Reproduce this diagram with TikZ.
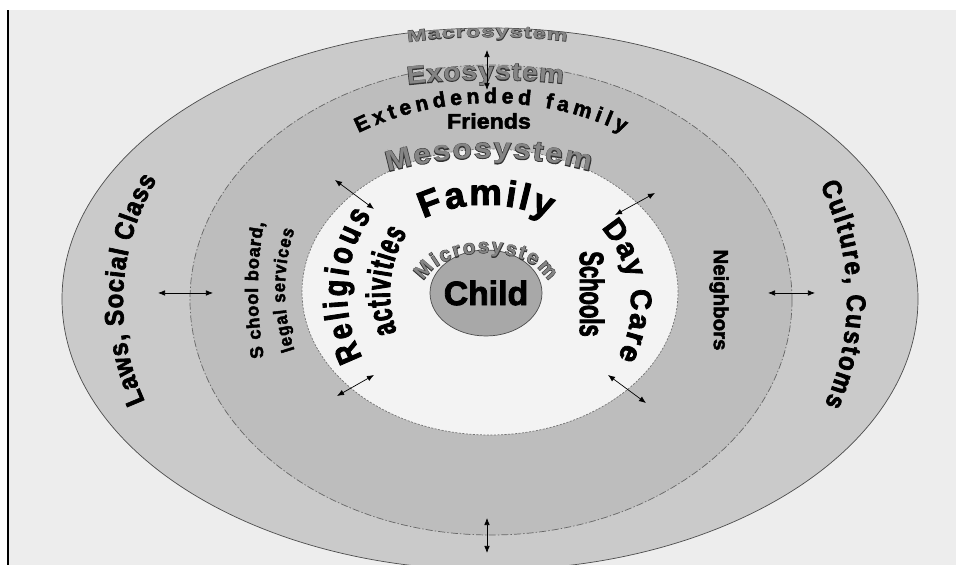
\documentclass[tikz,border=0pt]{standalone}
\usepackage{fontspec}
\setmainfont{Liberation Sans}
\newfontfamily\widefont{Liberation Sans}[FakeStretch=1.1]
\newfontfamily\xwidefont{Liberation Sans}[FakeStretch=1.45]
\newfontfamily\narrowfont{Liberation Sans}[FakeStretch=0.65]
\newfontfamily\condfont{Liberation Sans}[FakeStretch=0.8]
\newfontfamily\slimfont{Liberation Sans}[FakeStretch=0.9]
\usetikzlibrary{decorations.text,arrows.meta}

\definecolor{pagegray}{HTML}{EDEDED}
\definecolor{macrogray}{HTML}{CACACA}
\definecolor{exogray}{HTML}{BDBDBD}
\definecolor{mesogray}{HTML}{F3F3F3}
\definecolor{childgray}{HTML}{A8A8A8}
\definecolor{labelgray}{HTML}{858585}

% heavier strokes for the black labels, outline for the grey ones
\newcommand\heavy{\addfontfeature{FakeBold=2.5}}
\newcommand\graylab{\color{labelgray}}
\newcommand\outlinefx{\addfontfeature{FakeBold=5}\color{black!80}}

% fonts of the labels
\newcommand\macrofont{\xwidefont\bfseries\fontsize{11.5}{14}\selectfont}
\newcommand\exofont{\widefont\bfseries\fontsize{18}{22}\selectfont}
\newcommand\mesofont{\widefont\bfseries\fontsize{20}{24}\selectfont}
\newcommand\microfont{\bfseries\fontsize{14.5}{17}\selectfont}
\newcommand\famlinefont{\bfseries\fontsize{15}{18}\selectfont\heavy}
\newcommand\familyfont{\bfseries\fontsize{26}{31}\selectfont\heavy}
\newcommand\religfont{\condfont\bfseries\fontsize{24}{28}\selectfont\heavy}
\newcommand\actfont{\narrowfont\bfseries\fontsize{24}{28}\selectfont\heavy}
\newcommand\dayfont{\bfseries\fontsize{21}{25}\selectfont\heavy}
\newcommand\lawsfont{\slimfont\bfseries\fontsize{19}{23}\selectfont\heavy}
\newcommand\schoolfont{\bfseries\fontsize{13}{16}\selectfont\heavy}
\newcommand\legalfont{\slimfont\bfseries\fontsize{13}{16}\selectfont\heavy}

% elliptical arc: centre x, centre y, x radius, y radius, start, end
\newcommand\ringarc[6]{(#1,#2) ++(#5:#3 and #4)
  arc [start angle=#5, end angle=#6, x radius=#3, y radius=#4]}

\tikzset{
  curved/.style={decorate, decoration={text along path,
      text align=fit to path, text={#1}}},
  link/.style={{Latex[length=5pt,width=4pt]}-{Latex[length=5pt,width=4pt]},
    line width=0.5pt},
}

% grey system name with a dark rim: font, text, arc
\newcommand\systemname[3]{%
  \path [curved={|#1\outlinefx|#2}] #3;
  \path [curved={|#1\graylab|#2}] #3;}

\begin{document}
\begin{tikzpicture}[x=0.025cm, y=0.025cm]
\useasboundingbox (0,0) rectangle (956,565);

% Page background and the rule on the left
\fill [white] (0,0) rectangle (956,565);
\fill [pagegray] (9,0) rectangle (956,555);
\draw [line width=1.4pt] (8,0) -- (8,555);

% The nested systems, outermost first
\filldraw [fill=macrogray, draw=black!70, line width=0.5pt]
  (490,266) ellipse [x radius=428, y radius=271];
\filldraw [fill=exogray, draw=black!60, line width=0.5pt,
  dash pattern=on 5pt off 1.5pt on 1pt off 1.5pt]
  (491,265) ellipse [x radius=301, y radius=235];
\filldraw [fill=mesogray, draw=black!55, line width=0.5pt,
  dash pattern=on 1.5pt off 1pt]
  (490,273) ellipse [x radius=188, y radius=143];
\filldraw [fill=childgray, draw=black!70, line width=0.5pt]
  (486,272) ellipse [x radius=56, y radius=43];

% Names of the systems
\systemname{\macrofont}{Macrosystem}{\ringarc{490}{266}{420}{262}{101.3}{79.4}}
\systemname{\exofont}{Exosystem}{\ringarc{491}{265}{400}{220}{102}{79.6}}
\systemname{\mesofont}{Mesosystem}{\ringarc{490}{273}{230}{134}{116.3}{64.2}}
\systemname{\microfont}{Microsystem}{\ringarc{486}{272}{65}{40}{163}{17}}

% Macrosystem
\path [curved={|\lawsfont|Laws, Social Class}] \ringarc{490}{263}{367}{292}{199.9}{155.2};
\path [curved={|\lawsfont|Culture, Customs}] \ringarc{490}{265}{357}{302}{22.4}{-20.3};

% Exosystem
\path [curved={|\famlinefont|Extendended family}] \ringarc{491}{265}{250}{197}{122}{58};
\node [font=\widefont\bfseries\fontsize{15}{18}\selectfont\heavy] (friends) at (489,444) {Friends};
\path [curved={|\schoolfont|S chool board,}] \ringarc{491}{275}{233}{300}{193}{167};
\path [curved={|\legalfont|legal services}] \ringarc{491}{275}{206}{200}{197.5}{162.5};
\node [rotate=-90, font=\bfseries\fontsize{14.5}{17}\selectfont\heavy] (neighbors) at (719,265) {Neighbors};

% Microsystem
\path [curved={|\familyfont|Family}] \ringarc{486}{275}{115}{85}{123}{57};
\path [curved={|\religfont|Religious}] \ringarc{490}{271}{143}{140}{207}{146};
\path [curved={|\actfont|activities}] \ringarc{490}{272}{100}{107}{201.4}{145.9};
\path [curved={|\dayfont|Day Care}] \ringarc{490}{260}{141}{125}{38}{-25};
\node [rotate=-90, font=\narrowfont\bfseries\fontsize{24}{28}\selectfont\heavy] (schools) at (592,271) {Schools};
\node [font=\bfseries\fontsize{24}{29}\selectfont\heavy] (child) at (486,272) {Child};

% Double-headed arrows between the systems
\foreach \nm/\ax/\ay/\bx/\by in {
  top/487/515/487/475,
  bot/487/47/487/12,
  lft/158/272/213/272,
  rgt/815/272/768/272,
  ul/335/385/374/356,
  ur/655/372/615/350,
  ll/337/169/374/190,
  lr/646/162/608/190} {
  \coordinate (\nm a) at (\ax,\ay);
  \coordinate (\nm b) at (\bx,\by);
  \draw [link] (\nm a) -- (\nm b);
}

\end{tikzpicture}
\end{document}
